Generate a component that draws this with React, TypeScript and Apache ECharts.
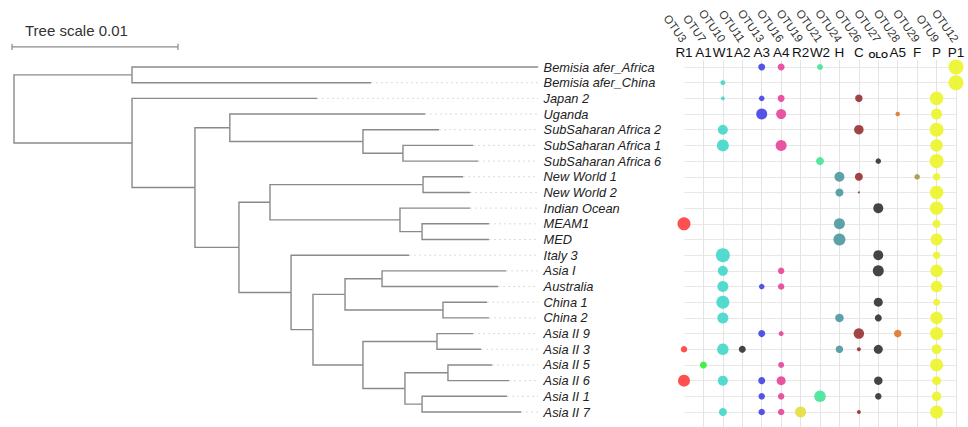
import React, { useEffect, useRef } from 'react';
import * as echarts from 'echarts';

const taxa = [
  'Bemisia afer_Africa', 'Bemisia afer_China', 'Japan 2', 'Uganda',
  'SubSaharan Africa 2', 'SubSaharan Africa 1', 'SubSaharan Africa 6',
  'New World 1', 'New World 2', 'Indian Ocean', 'MEAM1', 'MED', 'Italy 3',
  'Asia I', 'Australia', 'China 1', 'China 2', 'Asia II 9', 'Asia II 3',
  'Asia II 5', 'Asia II 6', 'Asia II 1', 'Asia II 7',
];

// tip depth (units of 0.001 substitutions) and parent node of each taxon
const tipDepths = [
  31.57, 21.5, 18.25, 24.76, 25.6, 27.65, 27.95, 27.05, 27.47, 27.47, 28.61,
  28.61, 23.8, 29.64, 29.16, 28.49, 28.61, 27.65, 28.13, 28.8, 29.82, 29.7, 30.54,
];
const tipParents = [
  'A', 'A', 'B', 'D', 'E', 'F', 'F', 'NW', 'NW', 'I', 'J', 'J', 'K', 'N', 'N',
  'O', 'O', 'Q', 'Q', 'S', 'S', 'T', 'T',
];
// internal nodes: [id, parent, depth]
const innerNodes: [string, string | null, number][] = [
  ['root', null, 0],
  ['A', 'root', 7.11],
  ['B', 'root', 7.11],
  ['C', 'B', 10.9],
  ['D', 'C', 13.0],
  ['E', 'D', 21.02],
  ['F', 'E', 23.43],
  ['G', 'C', 13.55],
  ['H', 'G', 15.42],
  ['NW', 'H', 24.64],
  ['I', 'H', 23.25],
  ['J', 'I', 24.58],
  ['K', 'G', 16.69],
  ['L', 'K', 18.01],
  ['M', 'L', 19.94],
  ['N', 'M', 22.17],
  ['O', 'M', 25.84],
  ['P', 'L', 21.02],
  ['Q', 'P', 25.48],
  ['R', 'P', 23.55],
  ['S', 'R', 26.14],
  ['T', 'R', 24.58],
];
const labelDepth = 31.57;
const scaleBarLength = 10; // 0.01

const otuNames = ['OTU3', 'OTU7', 'OTU10', 'OTU11', 'OTU13', 'OTU16', 'OTU19', 'OTU21', 'OTU24', 'OTU26', 'OTU27', 'OTU28', 'OTU29', 'OTU9', 'OTU12'];
const otuCodes = ['R1', 'A1', 'W1', 'A2', 'A3', 'A4', 'R2', 'W2', 'H', 'C', 'oLo', 'A5', 'F', 'P', 'P1'];
const otuColors = [
  '#ff4040', '#3aee3a', '#45d8cb', '#353535', '#4545e6', '#e8479b', '#e3df3e', '#46e597',
  '#4f9aa1', '#9b3434', '#353535', '#e07a30', '#a99a42', '#ebf52b', '#ebf52b',
];

// abundance (bubble diameter) per taxon row, columns in otuCodes order
const abundance = [
  //R1 A1  W1  A2  A3  A4  R2  W2  H    C   oLo A5  F   P   P1
  [0, 0, 0, 0, 7, 7, 0, 6, 0, 0, 0, 0, 0, 0, 15],
  [0, 0, 5, 0, 0, 0, 0, 0, 0, 0, 0, 0, 0, 0, 15],
  [0, 0, 4, 0, 5.5, 7, 0, 0, 0, 7.5, 0, 0, 0, 13.5, 0],
  [0, 0, 0, 0, 11, 10, 0, 0, 0, 0, 0, 4.5, 0, 11, 0],
  [0, 0, 10, 0, 0, 0, 0, 0, 0, 9.5, 0, 0, 0, 14, 0],
  [0, 0, 12, 0, 0, 11, 0, 0, 0, 0, 0, 0, 0, 12.5, 0],
  [0, 0, 0, 0, 0, 0, 0, 8, 0, 0, 5.5, 0, 0, 14, 0],
  [0, 0, 0, 0, 0, 0, 0, 0, 10, 8, 0, 0, 5.5, 7.5, 0],
  [0, 0, 0, 0, 0, 0, 0, 0, 8, 2, 0, 0, 0, 13.5, 0],
  [0, 0, 0, 0, 0, 0, 0, 0, 0, 0, 10, 0, 0, 13.5, 0],
  [13, 0, 0, 0, 0, 0, 0, 0, 11, 0, 0, 0, 0, 8, 0],
  [0, 0, 0, 0, 0, 0, 0, 0, 12, 0, 0, 0, 0, 12, 0],
  [0, 0, 14, 0, 0, 0, 0, 0, 0, 0, 10, 0, 0, 7.5, 0],
  [0, 0, 10, 0, 0, 6.5, 0, 0, 0, 0, 11, 0, 0, 12.5, 0],
  [0, 0, 11, 0, 5.5, 6.5, 0, 0, 0, 0, 0, 0, 0, 11.5, 0],
  [0, 0, 13, 0, 0, 0, 0, 0, 0, 0, 9, 0, 0, 7, 0],
  [0, 0, 11, 0, 0, 0, 0, 0, 8.5, 0, 7, 0, 0, 12.5, 0],
  [0, 0, 0, 0, 7, 5, 0, 0, 0, 10.5, 0, 7.5, 0, 13, 0],
  [6.5, 0, 11.5, 7, 0, 0, 0, 0, 7.5, 4, 9, 0, 0, 10, 0],
  [0, 7, 0, 0, 0, 6, 0, 0, 0, 0, 0, 0, 0, 13, 0],
  [12, 0, 10, 0, 7, 9, 0, 0, 0, 0, 8.5, 0, 0, 9, 0],
  [0, 0, 0, 0, 6.5, 6.5, 0, 11.5, 0, 0, 6.5, 0, 0, 9.5, 0],
  [0, 0, 8, 0, 6.5, 6.5, 11, 0, 0, 4, 0, 0, 0, 13, 0],
];

const FONT = '"Liberation Sans", Arial, sans-serif';

function buildTree() {
  const depth: Record<string, number> = {};
  const parent: Record<string, string | null> = {};
  const children: Record<string, string[]> = {};
  innerNodes.forEach(([id, p, d]) => {
    depth[id] = d;
    parent[id] = p;
    children[id] = [];
  });
  innerNodes.forEach(([id, p]) => {
    if (p) children[p].push(id);
  });
  const y: Record<string, number> = {};
  taxa.forEach((_, i) => {
    const id = 'tip' + i;
    depth[id] = tipDepths[i];
    parent[id] = tipParents[i];
    children[tipParents[i]].push(id);
    y[id] = i;
  });
  const getY = (id: string): number => {
    if (y[id] !== undefined) return y[id];
    const ys = children[id].map(getY);
    y[id] = (Math.min(...ys) + Math.max(...ys)) / 2;
    return y[id];
  };
  getY('root');
  return Object.keys(parent)
    .filter((id) => parent[id])
    .map((id) => {
      const p = parent[id] as string;
      return {
        coords: [
          [depth[p], y[p]],
          [depth[p], y[id]],
          [depth[id], y[id]],
        ],
      };
    });
}

export default function App() {
  const ref = useRef<HTMLDivElement>(null);
  useEffect(() => {
    if (!ref.current) return;
    const chart = echarts.init(ref.current, undefined, { renderer: 'svg' });
    const branches = buildTree();
    const connectors = taxa
      .map((_, i) => ({ coords: [[tipDepths[i], i], [labelDepth, i]] }))
      .filter((d) => d.coords[0][0] < labelDepth - 0.05);
    const barY = -1.28;
    const scaleBar = [
      { coords: [[-0.12, barY], [-0.12 + scaleBarLength, barY]] },
      { coords: [[-0.12, barY - 0.2], [-0.12, barY + 0.2]] },
      { coords: [[-0.12 + scaleBarLength, barY - 0.2], [-0.12 + scaleBarLength, barY + 0.2]] },
    ];

    const bubbleSeries = otuCodes.map((code, c) => ({
      name: code,
      type: 'scatter',
      xAxisIndex: 1,
      yAxisIndex: 1,
      data: abundance.map((row, r) => [c, r, row[c]]).filter((d) => d[2] > 0),
      symbolSize: (d: number[]) => d[2],
      itemStyle: { color: otuColors[c], opacity: 0.92 },
      z: 3,
    }));

    chart.setOption({
      animation: false,
      backgroundColor: '#ffffff',
      graphic: [
        {
          type: 'text',
          left: 25,
          top: 23,
          style: { text: 'Tree scale 0.01', fontSize: 15, fill: '#333', fontFamily: FONT },
        },
      ],
      grid: [
        { left: 14, top: 67, width: 524.6, height: 345 },
        { left: 684, top: 67, width: 272, height: 345 },
        { left: 684, top: 60, width: 272, height: 367 },
      ],
      xAxis: [
        { gridIndex: 0, type: 'value', min: 0, max: 31.6, show: false },
        {
          gridIndex: 1, type: 'value', min: 0, max: 14, interval: 1, position: 'top',
          axisLine: { show: false }, axisTick: { show: false }, splitLine: { show: false },
          axisLabel: {
            margin: 7.5, fontSize: 13.5, color: '#111', fontFamily: FONT,
            formatter: (v: number) => (otuCodes[v] === 'oLo' ? '{s|OLO}' : otuCodes[v]),
            rich: { s: { fontSize: 9, fontWeight: 'bold', color: '#111', fontFamily: FONT } },
          },
        },
        {
          gridIndex: 2, type: 'value', min: 0, max: 14, interval: 1, position: 'top',
          axisLine: { show: false }, axisTick: { show: false },
          splitLine: { show: true, showMinLine: false, lineStyle: { color: '#e4e4e4', width: 1 } },
          axisLabel: {
            rotate: -55, margin: 19, fontSize: 11.5, color: '#333', fontFamily: FONT,
            formatter: (v: number) => otuNames[v],
          },
        },
      ],
      yAxis: [
        {
          gridIndex: 0, type: 'value', min: 0, max: 22, interval: 1, inverse: true, position: 'right',
          axisLine: { show: false }, axisTick: { show: false }, splitLine: { show: false },
          axisLabel: {
            margin: 5, fontSize: 12.8, fontStyle: 'italic', color: '#222', fontFamily: FONT,
            formatter: (v: number) => taxa[v] ?? '',
          },
        },
        {
          gridIndex: 1, type: 'value', min: 0, max: 22, interval: 1, inverse: true,
          axisLine: { show: false }, axisTick: { show: false }, axisLabel: { show: false },
          splitLine: { show: true, lineStyle: { color: '#e8e8e8', width: 1.2 } },
        },
        { gridIndex: 2, type: 'value', min: 0, max: 1, show: false },
      ],
      series: [
        {
          type: 'lines', coordinateSystem: 'cartesian2d', xAxisIndex: 0, yAxisIndex: 0,
          polyline: true, data: connectors, silent: true, clip: false,
          lineStyle: { color: '#dadada', width: 1, type: [2, 3], opacity: 1 },
        },
        {
          type: 'lines', coordinateSystem: 'cartesian2d', xAxisIndex: 0, yAxisIndex: 0,
          polyline: true, data: branches, silent: true, clip: false,
          lineStyle: { color: '#8a8a8a', width: 1.4, opacity: 1 },
        },
        {
          type: 'lines', coordinateSystem: 'cartesian2d', xAxisIndex: 0, yAxisIndex: 0,
          polyline: true, data: scaleBar, silent: true, clip: false,
          lineStyle: { color: '#8a8a8a', width: 1.2, opacity: 1 },
        },
        ...bubbleSeries,
      ],
    });
    return () => chart.dispose();
  }, []);
  return (
    <div
      ref={ref}
      style={{ position: 'absolute', left: 0, top: 0, width: 968, height: 427 }}
    />
  );
}
